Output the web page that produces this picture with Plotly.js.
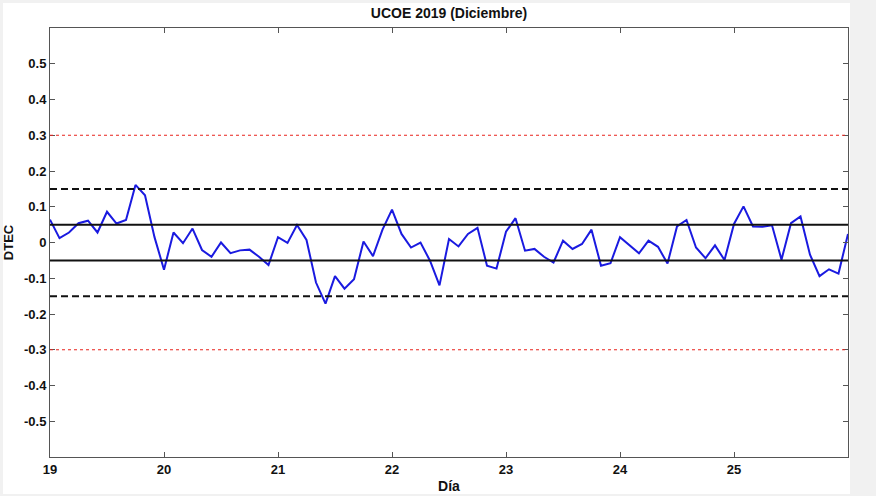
<!DOCTYPE html>
<html>
<head>
<meta charset="utf-8">
<script src="https://cdn.plot.ly/plotly-3.0.1.min.js"></script>
<style>html,body{margin:0;padding:0;background:#f1f1f1;}</style>
</head>
<body>
<div id="chart" style="width:876px;height:496px;"></div>
<script>
// DTEC values sampled every 2 hours from day 19 to day 26
const startDay = 19;
const stepHours = 2;
const dtec = [
  0.064, 0.012, 0.028, 0.054, 0.061, 0.028, 0.086, 0.053, 0.063, 0.161,
  0.132, 0.015, -0.076, 0.028, -0.002, 0.039, -0.021, -0.040, 0.000, -0.030,
  -0.022, -0.020, -0.040, -0.063, 0.015, -0.001, 0.049, 0.007, -0.112, -0.171,
  -0.094, -0.129, -0.103, 0.003, -0.038, 0.036, 0.092, 0.024, -0.014, 0.000,
  -0.051, -0.120, 0.010, -0.011, 0.024, 0.041, -0.065, -0.073, 0.030, 0.068,
  -0.023, -0.018, -0.040, -0.056, 0.005, -0.018, -0.004, 0.036, -0.065, -0.058,
  0.015, -0.007, -0.030, 0.005, -0.012, -0.059, 0.045, 0.063, -0.014, -0.044,
  -0.008, -0.049, 0.052, 0.101, 0.045, 0.044, 0.048, -0.048, 0.054, 0.073,
  -0.034, -0.094, -0.075, -0.087, 0.024
];
const days = dtec.map((v, i) => startDay + i * stepHours / 24);

const innerLimits = [0.05, -0.05];
const outerLimits = [0.15, -0.15];
const redLimits = [0.3, -0.3];

const xTicks = [19, 20, 21, 22, 23, 24, 25];
const yTicks = [-0.5, -0.4, -0.3, -0.2, -0.1, 0, 0.1, 0.2, 0.3, 0.4, 0.5];
const yTickText = ['-0.5', '-0.4', '-0.3', '-0.2', '-0.1', '0', '0.1', '0.2', '0.3', '0.4', '0.5'];

const W = 876, H = 496;
const mL = 50, mR = 28, mT = 28, mB = 39;
const pw = W - mL - mR, ph = H - mT - mB;

const shapes = [];
// white figure background
shapes.push({type:'rect', xref:'paper', yref:'paper', layer:'below',
  x0:(3 - mL)/pw, x1:(850 - mL)/pw,
  y0:-((494 - (H - mB)) / ph), y1:1 + (mT - 3) / ph,
  fillcolor:'#ffffff', line:{width:0}});

redLimits.forEach(v => shapes.push({type:'line', xref:'paper', yref:'y', x0:0, x1:1, y0:v, y1:v,
  line:{color:'#e8231c', width:1, dash:'dot'}}));
outerLimits.forEach(v => shapes.push({type:'line', xref:'paper', yref:'y', x0:0, x1:1, y0:v, y1:v,
  line:{color:'#111111', width:2, dash:'7px,4px'}}));
innerLimits.forEach(v => shapes.push({type:'line', xref:'paper', yref:'y', x0:0, x1:1, y0:v, y1:v,
  line:{color:'#111111', width:2}}));

const trace = {
  x: days, y: dtec, type:'scatter', mode:'lines',
  line:{color:'#1a1ae0', width:2}, hoverinfo:'skip'
};

const fam = 'Liberation Sans, Arial, sans-serif';
const axisFont = {family:fam, size:13, color:'#111', weight:'bold'};

const layout = {
  width: W, height: H,
  margin:{l:mL, r:mR, t:mT, b:mB, pad:0},
  paper_bgcolor:'#f1f1f1',
  plot_bgcolor:'rgba(0,0,0,0)',
  showlegend:false,
  title:{text:'<b>UCOE 2019 (Diciembre)</b>', x:449/W, xanchor:'center', xref:'container',
    y:1 - 13/H, yanchor:'middle', yref:'container',
    font:{family:fam, size:14, color:'#111'}},
  xaxis:{
    range:[19, 26], tickvals:xTicks, ticktext:xTicks.map(String),
    ticks:'inside', ticklen:5, tickcolor:'#555', tickwidth:1,
    showline:true, linecolor:'#555', linewidth:1, mirror:'ticks',
    showgrid:false, zeroline:false, tickfont:axisFont,
    title:{text:'<b>Día</b>', standoff:5, font:{family:fam, size:14, color:'#111'}}
  },
  yaxis:{
    range:[-0.6, 0.6], tickvals:yTicks, ticktext:yTickText,
    ticks:'inside', ticklen:5, tickcolor:'#555', tickwidth:1,
    showline:true, linecolor:'#555', linewidth:1, mirror:'ticks',
    showgrid:false, zeroline:false, tickfont:axisFont,
    title:{text:'<b>DTEC</b>', standoff:7, font:{family:fam, size:13, color:'#111'}}
  },
  shapes: shapes
};

Plotly.newPlot('chart', [trace], layout, {displayModeBar:false, staticPlot:true});
</script>
</body>
</html>
